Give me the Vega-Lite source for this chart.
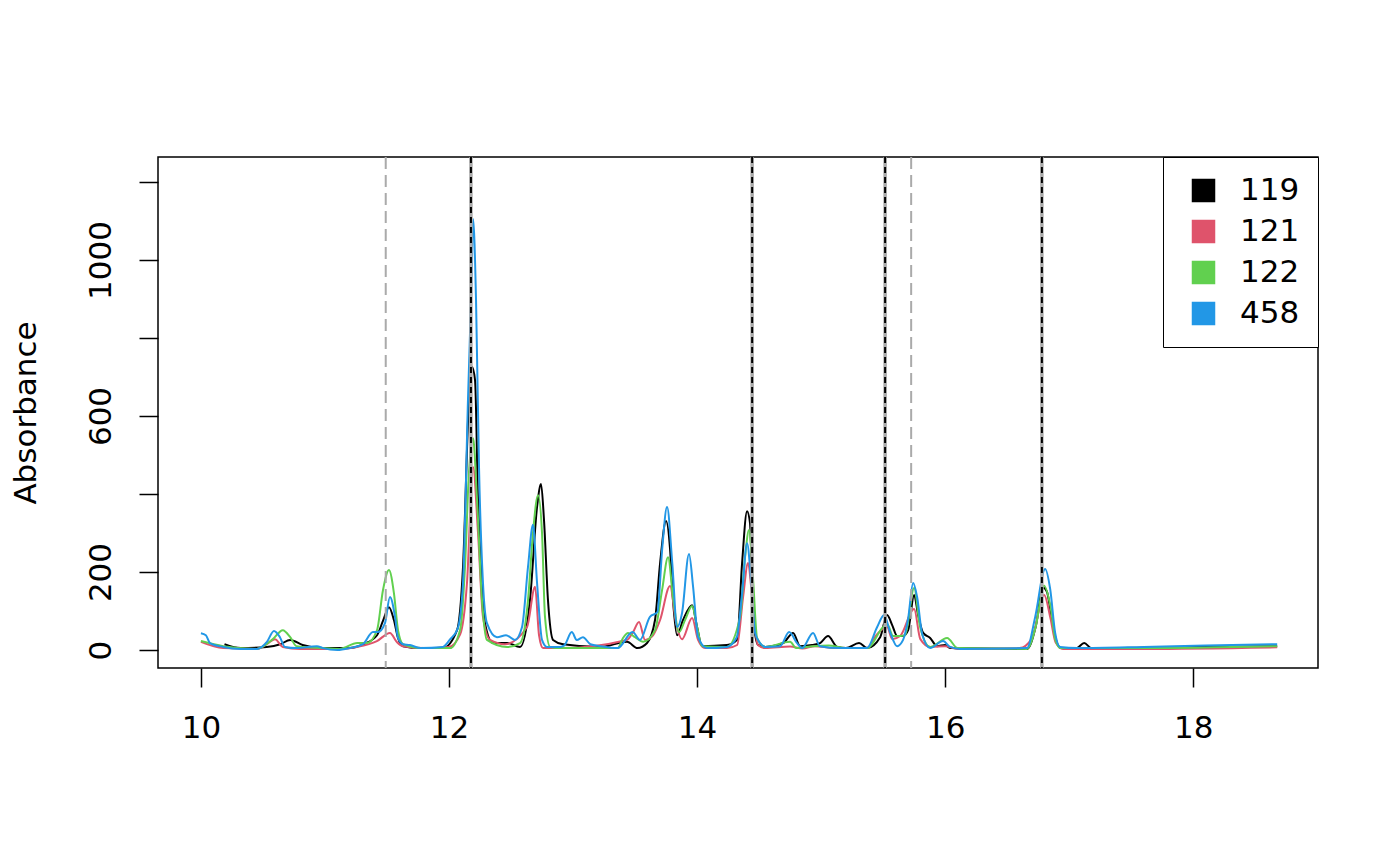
{
  "$schema": "https://vega.github.io/schema/vega-lite/v6.json",
  "width": 1160,
  "height": 511,
  "autosize": "none",
  "padding": {"left": 158, "top": 157, "right": 82, "bottom": 197},
  "background": "white",
  "config": {
    "font": "DejaVu Sans",
    "view": {"stroke": "black", "strokeWidth": 1.5},
    "axis": {"grid": false, "domain": false, "tickColor": "black", "tickWidth": 1.5, "tickSize": 19, "labelFont": "DejaVu Sans", "labelFontSize": 31, "labelColor": "black", "titleFont": "DejaVu Sans", "titleFontSize": 31, "titleColor": "black", "titleFontWeight": "normal"}
  },
  "datasets": {
    "chrom": [
        {"t":10.19,"v":15,"s":"119"},{"t":10.32,"v":5,"s":"119"},{"t":10.53,"v":8,"s":"119"},{"t":10.64,"v":15,"s":"119"},{"t":10.72,"v":26,"s":"119"},{"t":10.82,"v":13,"s":"119"},{"t":10.98,"v":5,"s":"119"},{"t":11.2,"v":5,"s":"119"},{"t":11.31,"v":15,"s":"119"},{"t":11.42,"v":38,"s":"119"},{"t":11.47,"v":77,"s":"119"},{"t":11.516,"v":110,"s":"119"},{"t":11.556,"v":77,"s":"119"},{"t":11.589,"v":31,"s":"119"},{"t":11.63,"v":10,"s":"119"},{"t":11.77,"v":5,"s":"119"},{"t":11.95,"v":5,"s":"119"},{"t":12.065,"v":51,"s":"119"},{"t":12.113,"v":213,"s":"119"},{"t":12.161,"v":641,"s":"119"},{"t":12.185,"v":726,"s":"119"},{"t":12.21,"v":692,"s":"119"},{"t":12.234,"v":385,"s":"119"},{"t":12.266,"v":172,"s":"119"},{"t":12.29,"v":69,"s":"119"},{"t":12.355,"v":18,"s":"119"},{"t":12.468,"v":18,"s":"119"},{"t":12.573,"v":8,"s":"119"},{"t":12.653,"v":128,"s":"119"},{"t":12.71,"v":367,"s":"119"},{"t":12.742,"v":426,"s":"119"},{"t":12.766,"v":333,"s":"119"},{"t":12.798,"v":128,"s":"119"},{"t":12.839,"v":26,"s":"119"},{"t":12.92,"v":15,"s":"119"},{"t":13.22,"v":8,"s":"119"},{"t":13.435,"v":21,"s":"119"},{"t":13.52,"v":5,"s":"119"},{"t":13.597,"v":18,"s":"119"},{"t":13.661,"v":77,"s":"119"},{"t":13.702,"v":223,"s":"119"},{"t":13.75,"v":331,"s":"119"},{"t":13.782,"v":260,"s":"119"},{"t":13.806,"v":128,"s":"119"},{"t":13.839,"v":38,"s":"119"},{"t":13.887,"v":77,"s":"119"},{"t":13.96,"v":115,"s":"119"},{"t":14.0,"v":59,"s":"119"},{"t":14.04,"v":10,"s":"119"},{"t":14.242,"v":13,"s":"119"},{"t":14.323,"v":26,"s":"119"},{"t":14.363,"v":223,"s":"119"},{"t":14.403,"v":356,"s":"119"},{"t":14.427,"v":325,"s":"119"},{"t":14.452,"v":85,"s":"119"},{"t":14.492,"v":13,"s":"119"},{"t":14.55,"v":8,"s":"119"},{"t":14.694,"v":18,"s":"119"},{"t":14.774,"v":44,"s":"119"},{"t":14.831,"v":10,"s":"119"},{"t":14.927,"v":13,"s":"119"},{"t":14.992,"v":18,"s":"119"},{"t":15.056,"v":36,"s":"119"},{"t":15.129,"v":8,"s":"119"},{"t":15.2,"v":5,"s":"119"},{"t":15.306,"v":18,"s":"119"},{"t":15.371,"v":5,"s":"119"},{"t":15.476,"v":33,"s":"119"},{"t":15.532,"v":90,"s":"119"},{"t":15.573,"v":64,"s":"119"},{"t":15.613,"v":36,"s":"119"},{"t":15.661,"v":36,"s":"119"},{"t":15.702,"v":51,"s":"119"},{"t":15.75,"v":141,"s":"119"},{"t":15.782,"v":90,"s":"119"},{"t":15.823,"v":44,"s":"119"},{"t":15.879,"v":31,"s":"119"},{"t":15.935,"v":10,"s":"119"},{"t":16.0,"v":13,"s":"119"},{"t":16.04,"v":5,"s":"119"},{"t":16.66,"v":3,"s":"119"},{"t":16.73,"v":60,"s":"119"},{"t":16.79,"v":160,"s":"119"},{"t":16.82,"v":150,"s":"119"},{"t":16.85,"v":100,"s":"119"},{"t":16.89,"v":30,"s":"119"},{"t":16.93,"v":5,"s":"119"},{"t":17.06,"v":5,"s":"119"},{"t":17.121,"v":18,"s":"119"},{"t":17.18,"v":5,"s":"119"},{"t":17.6,"v":6,"s":"119"},{"t":18.677,"v":10,"s":"119"},

        {"t":10.0,"v":21,"s":"121"},{"t":10.18,"v":5,"s":"121"},{"t":10.45,"v":3,"s":"121"},{"t":10.53,"v":15,"s":"121"},{"t":10.597,"v":28,"s":"121"},{"t":10.661,"v":8,"s":"121"},{"t":10.8,"v":3,"s":"121"},{"t":11.12,"v":3,"s":"121"},{"t":11.258,"v":8,"s":"121"},{"t":11.419,"v":23,"s":"121"},{"t":11.524,"v":44,"s":"121"},{"t":11.581,"v":20,"s":"121"},{"t":11.629,"v":10,"s":"121"},{"t":11.8,"v":5,"s":"121"},{"t":12.0,"v":8,"s":"121"},{"t":12.09,"v":40,"s":"121"},{"t":12.145,"v":172,"s":"121"},{"t":12.194,"v":469,"s":"121"},{"t":12.234,"v":300,"s":"121"},{"t":12.274,"v":85,"s":"121"},{"t":12.331,"v":26,"s":"121"},{"t":12.45,"v":15,"s":"121"},{"t":12.629,"v":59,"s":"121"},{"t":12.694,"v":162,"s":"121"},{"t":12.726,"v":38,"s":"121"},{"t":12.758,"v":5,"s":"121"},{"t":12.9,"v":5,"s":"121"},{"t":13.435,"v":26,"s":"121"},{"t":13.484,"v":46,"s":"121"},{"t":13.532,"v":72,"s":"121"},{"t":13.581,"v":26,"s":"121"},{"t":13.645,"v":38,"s":"121"},{"t":13.702,"v":77,"s":"121"},{"t":13.782,"v":164,"s":"121"},{"t":13.831,"v":69,"s":"121"},{"t":13.879,"v":28,"s":"121"},{"t":13.96,"v":82,"s":"121"},{"t":14.008,"v":26,"s":"121"},{"t":14.065,"v":5,"s":"121"},{"t":14.24,"v":5,"s":"121"},{"t":14.323,"v":13,"s":"121"},{"t":14.371,"v":136,"s":"121"},{"t":14.411,"v":223,"s":"121"},{"t":14.444,"v":136,"s":"121"},{"t":14.49,"v":13,"s":"121"},{"t":14.55,"v":5,"s":"121"},{"t":14.75,"v":9,"s":"121"},{"t":14.85,"v":4,"s":"121"},{"t":14.95,"v":10,"s":"121"},{"t":15.1,"v":5,"s":"121"},{"t":15.37,"v":5,"s":"121"},{"t":15.45,"v":40,"s":"121"},{"t":15.532,"v":59,"s":"121"},{"t":15.573,"v":28,"s":"121"},{"t":15.637,"v":36,"s":"121"},{"t":15.75,"v":105,"s":"121"},{"t":15.8,"v":28,"s":"121"},{"t":15.88,"v":8,"s":"121"},{"t":16.0,"v":10,"s":"121"},{"t":16.1,"v":3,"s":"121"},{"t":16.6,"v":5,"s":"121"},{"t":16.7,"v":30,"s":"121"},{"t":16.798,"v":141,"s":"121"},{"t":16.85,"v":80,"s":"121"},{"t":16.89,"v":20,"s":"121"},{"t":16.95,"v":3,"s":"121"},{"t":17.6,"v":3,"s":"121"},{"t":18.677,"v":7,"s":"121"},

        {"t":10.0,"v":23,"s":"122"},{"t":10.18,"v":10,"s":"122"},{"t":10.45,"v":3,"s":"122"},{"t":10.58,"v":28,"s":"122"},{"t":10.66,"v":51,"s":"122"},{"t":10.72,"v":33,"s":"122"},{"t":10.77,"v":10,"s":"122"},{"t":10.98,"v":5,"s":"122"},{"t":11.12,"v":3,"s":"122"},{"t":11.26,"v":18,"s":"122"},{"t":11.34,"v":18,"s":"122"},{"t":11.42,"v":51,"s":"122"},{"t":11.468,"v":154,"s":"122"},{"t":11.516,"v":205,"s":"122"},{"t":11.556,"v":146,"s":"122"},{"t":11.589,"v":51,"s":"122"},{"t":11.63,"v":15,"s":"122"},{"t":11.77,"v":5,"s":"122"},{"t":12.008,"v":5,"s":"122"},{"t":12.089,"v":51,"s":"122"},{"t":12.129,"v":213,"s":"122"},{"t":12.16,"v":450,"s":"122"},{"t":12.194,"v":543,"s":"122"},{"t":12.226,"v":385,"s":"122"},{"t":12.266,"v":128,"s":"122"},{"t":12.306,"v":26,"s":"122"},{"t":12.468,"v":8,"s":"122"},{"t":12.573,"v":18,"s":"122"},{"t":12.637,"v":128,"s":"122"},{"t":12.677,"v":300,"s":"122"},{"t":12.718,"v":397,"s":"122"},{"t":12.75,"v":300,"s":"122"},{"t":12.774,"v":85,"s":"122"},{"t":12.815,"v":8,"s":"122"},{"t":12.9,"v":5,"s":"122"},{"t":13.36,"v":5,"s":"122"},{"t":13.403,"v":31,"s":"122"},{"t":13.444,"v":44,"s":"122"},{"t":13.5,"v":33,"s":"122"},{"t":13.565,"v":21,"s":"122"},{"t":13.661,"v":51,"s":"122"},{"t":13.718,"v":154,"s":"122"},{"t":13.766,"v":238,"s":"122"},{"t":13.806,"v":136,"s":"122"},{"t":13.855,"v":46,"s":"122"},{"t":13.903,"v":77,"s":"122"},{"t":13.96,"v":113,"s":"122"},{"t":14.0,"v":59,"s":"122"},{"t":14.04,"v":10,"s":"122"},{"t":14.24,"v":8,"s":"122"},{"t":14.347,"v":85,"s":"122"},{"t":14.387,"v":239,"s":"122"},{"t":14.419,"v":308,"s":"122"},{"t":14.452,"v":179,"s":"122"},{"t":14.484,"v":31,"s":"122"},{"t":14.55,"v":8,"s":"122"},{"t":14.75,"v":21,"s":"122"},{"t":14.8,"v":5,"s":"122"},{"t":14.935,"v":10,"s":"122"},{"t":15.06,"v":12,"s":"122"},{"t":15.2,"v":5,"s":"122"},{"t":15.37,"v":5,"s":"122"},{"t":15.5,"v":59,"s":"122"},{"t":15.532,"v":67,"s":"122"},{"t":15.581,"v":36,"s":"122"},{"t":15.637,"v":36,"s":"122"},{"t":15.677,"v":38,"s":"122"},{"t":15.75,"v":159,"s":"122"},{"t":15.798,"v":59,"s":"122"},{"t":15.879,"v":8,"s":"122"},{"t":16.016,"v":31,"s":"122"},{"t":16.1,"v":5,"s":"122"},{"t":16.66,"v":3,"s":"122"},{"t":16.73,"v":60,"s":"122"},{"t":16.798,"v":165,"s":"122"},{"t":16.85,"v":110,"s":"122"},{"t":16.89,"v":25,"s":"122"},{"t":16.93,"v":5,"s":"122"},{"t":17.6,"v":5,"s":"122"},{"t":18.677,"v":10,"s":"122"},

        {"t":10.0,"v":43,"s":"458"},{"t":10.04,"v":38,"s":"458"},{"t":10.073,"v":18,"s":"458"},{"t":10.18,"v":8,"s":"458"},{"t":10.32,"v":3,"s":"458"},{"t":10.45,"v":3,"s":"458"},{"t":10.532,"v":21,"s":"458"},{"t":10.589,"v":49,"s":"458"},{"t":10.637,"v":33,"s":"458"},{"t":10.677,"v":8,"s":"458"},{"t":10.77,"v":5,"s":"458"},{"t":10.935,"v":10,"s":"458"},{"t":10.984,"v":5,"s":"458"},{"t":11.1,"v":0,"s":"458"},{"t":11.2,"v":5,"s":"458"},{"t":11.306,"v":15,"s":"458"},{"t":11.387,"v":46,"s":"458"},{"t":11.427,"v":46,"s":"458"},{"t":11.484,"v":69,"s":"458"},{"t":11.524,"v":136,"s":"458"},{"t":11.565,"v":85,"s":"458"},{"t":11.589,"v":31,"s":"458"},{"t":11.629,"v":15,"s":"458"},{"t":11.685,"v":13,"s":"458"},{"t":11.77,"v":5,"s":"458"},{"t":11.95,"v":8,"s":"458"},{"t":12.01,"v":28,"s":"458"},{"t":12.07,"v":55,"s":"458"},{"t":12.113,"v":172,"s":"458"},{"t":12.153,"v":641,"s":"458"},{"t":12.185,"v":982,"s":"458"},{"t":12.194,"v":1105,"s":"458"},{"t":12.218,"v":897,"s":"458"},{"t":12.242,"v":469,"s":"458"},{"t":12.274,"v":172,"s":"458"},{"t":12.306,"v":69,"s":"458"},{"t":12.387,"v":33,"s":"458"},{"t":12.46,"v":38,"s":"458"},{"t":12.532,"v":26,"s":"458"},{"t":12.589,"v":59,"s":"458"},{"t":12.637,"v":213,"s":"458"},{"t":12.677,"v":321,"s":"458"},{"t":12.71,"v":172,"s":"458"},{"t":12.75,"v":26,"s":"458"},{"t":12.79,"v":8,"s":"458"},{"t":12.895,"v":8,"s":"458"},{"t":12.93,"v":12,"s":"458"},{"t":12.99,"v":46,"s":"458"},{"t":13.03,"v":26,"s":"458"},{"t":13.08,"v":33,"s":"458"},{"t":13.14,"v":15,"s":"458"},{"t":13.22,"v":10,"s":"458"},{"t":13.36,"v":5,"s":"458"},{"t":13.48,"v":46,"s":"458"},{"t":13.54,"v":26,"s":"458"},{"t":13.62,"v":85,"s":"458"},{"t":13.68,"v":97,"s":"458"},{"t":13.72,"v":264,"s":"458"},{"t":13.758,"v":367,"s":"458"},{"t":13.8,"v":223,"s":"458"},{"t":13.839,"v":59,"s":"458"},{"t":13.879,"v":95,"s":"458"},{"t":13.935,"v":246,"s":"458"},{"t":13.968,"v":162,"s":"458"},{"t":14.008,"v":33,"s":"458"},{"t":14.08,"v":5,"s":"458"},{"t":14.24,"v":8,"s":"458"},{"t":14.32,"v":33,"s":"458"},{"t":14.363,"v":146,"s":"458"},{"t":14.403,"v":274,"s":"458"},{"t":14.435,"v":179,"s":"458"},{"t":14.468,"v":44,"s":"458"},{"t":14.508,"v":18,"s":"458"},{"t":14.55,"v":8,"s":"458"},{"t":14.67,"v":10,"s":"458"},{"t":14.742,"v":46,"s":"458"},{"t":14.806,"v":18,"s":"458"},{"t":14.847,"v":5,"s":"458"},{"t":14.935,"v":44,"s":"458"},{"t":14.99,"v":10,"s":"458"},{"t":15.15,"v":5,"s":"458"},{"t":15.37,"v":5,"s":"458"},{"t":15.452,"v":59,"s":"458"},{"t":15.508,"v":90,"s":"458"},{"t":15.556,"v":46,"s":"458"},{"t":15.613,"v":10,"s":"458"},{"t":15.661,"v":26,"s":"458"},{"t":15.702,"v":82,"s":"458"},{"t":15.742,"v":172,"s":"458"},{"t":15.774,"v":136,"s":"458"},{"t":15.815,"v":41,"s":"458"},{"t":15.879,"v":5,"s":"458"},{"t":15.984,"v":23,"s":"458"},{"t":16.04,"v":8,"s":"458"},{"t":16.12,"v":3,"s":"458"},{"t":16.66,"v":5,"s":"458"},{"t":16.726,"v":85,"s":"458"},{"t":16.806,"v":208,"s":"458"},{"t":16.847,"v":156,"s":"458"},{"t":16.887,"v":44,"s":"458"},{"t":16.927,"v":8,"s":"458"},{"t":17.065,"v":5,"s":"458"},{"t":17.6,"v":8,"s":"458"},{"t":18.1,"v":12,"s":"458"},{"t":18.677,"v":15,"s":"458"}
    ]
  },
  "layer": [
    {
      "data": {"name": "chrom"},
      "mark": {"type": "point", "shape": "square", "filled": true, "opacity": 0, "stroke": "black"},
      "encoding": {
        "x": {"field": "t", "type": "quantitative"},
        "y": {"field": "v", "type": "quantitative"},
        "fill": {"field": "s", "type": "nominal",
          "scale": {"domain": ["119", "121", "122", "458"], "range": ["#000000", "#DF536B", "#61D04F", "#2297E6"]},
          "legend": {"title": null, "orient": "none", "legendX": 1005, "legendY": 0,
            "strokeColor": "black", "fillColor": "white", "padding": 18,
            "symbolType": "square", "symbolSize": 484, "symbolStrokeWidth": 1.5, "symbolStrokeColor": "black", "symbolOpacity": 1,
            "symbolOffset": 7, "labelOffset": 21, "rowPadding": 9,
            "labelFont": "DejaVu Sans", "labelFontSize": 31, "labelColor": "black",
            "encode": {"symbols": {"update": {"stroke": {"value": "black"}, "strokeWidth": {"value": 1.5}, "strokeOpacity": {"value": 1}, "opacity": {"value": 1}}}}}}
      }
    },
    {
      "data": {"name": "chrom"},
      "mark": {"type": "line", "strokeWidth": 2, "interpolate": "monotone", "clip": true},
      "encoding": {
        "x": {"field": "t", "type": "quantitative", "scale": {"domain": [9.654, 19.006], "nice": false, "zero": false},
          "axis": {"title": null, "values": [10, 12, 14, 16, 18], "format": "d", "labelPadding": 26}},
        "y": {"field": "v", "type": "quantitative", "scale": {"domain": [-46, 1264], "nice": false, "zero": false},
          "axis": {"title": "Absorbance", "values": [0, 200, 400, 600, 800, 1000, 1200], "format": "d",
            "labelExpr": "(datum.value == 0 || datum.value == 200 || datum.value == 600 || datum.value == 1000) ? datum.label : ''",
            "labelAngle": -90, "labelAlign": "center", "labelBaseline": "alphabetic", "labelPadding": 29,
            "titleAngle": -90, "titleX": -132, "titleY": 255.5, "titleAlign": "center", "titleBaseline": "middle"}},
        "color": {"field": "s", "type": "nominal",
          "scale": {"domain": ["119", "121", "122", "458"], "range": ["#000000", "#DF536B", "#61D04F", "#2297E6"]},
          "legend": null}
      }
    },
    {
      "data": {"values": [{"x": 12.177}, {"x": 14.444}, {"x": 15.516}, {"x": 16.78}]},
      "mark": {"type": "rule", "color": "#AAAAAA", "strokeWidth": 3.5},
      "encoding": {"x": {"field": "x", "type": "quantitative"}}
    },
    {
      "data": {"values": [{"x": 12.177}, {"x": 14.444}, {"x": 15.516}, {"x": 16.78}]},
      "mark": {"type": "rule", "color": "black", "strokeWidth": 2, "strokeDash": [6, 4]},
      "encoding": {"x": {"field": "x", "type": "quantitative"}}
    },
    {
      "data": {"values": [{"x": 11.49}, {"x": 15.726}]},
      "mark": {"type": "rule", "color": "#AAAAAA", "strokeWidth": 2, "strokeDash": [12, 6]},
      "encoding": {"x": {"field": "x", "type": "quantitative"}}
    }
  ]
}
